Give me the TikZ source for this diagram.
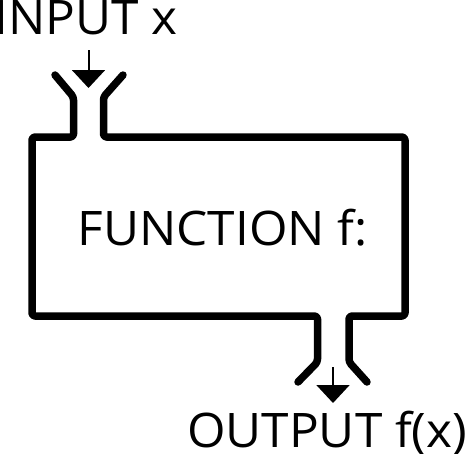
\documentclass[tikz,border=0pt]{standalone}
\usepackage{fontspec}
\setmainfont{Open Sans}[FakeStretch=1.04]
\usetikzlibrary{arrows.meta}

\begin{document}
\begin{tikzpicture}[x=1pt,y=-1pt,
  wall/.style={line width=7.5pt, line cap=round, line join=round, rounded corners=3pt},
  flow/.style={line width=2pt, -{Triangle[width=33pt,length=18pt]}},
  boxtext/.style={font=\fontsize{47.6}{50}\selectfont, inner sep=0pt, anchor=base west}]
  \useasboundingbox (0,0) rectangle (474,453);
  \node[boxtext] (in) at (-6,34) {INPUT x};
  \node[boxtext] (fn) at (77.5,245) {FUNCTION f:};
  \node[boxtext] (out) at (187,447) {OUTPUT f(x)};
  \coordinate (inA) at (88.5,50);
  \coordinate (inB) at (88.5,88);
  \coordinate (outA) at (333,367);
  \coordinate (outB) at (333,403);
  % machine walls, left and right halves
  \draw[wall] (55,75) -- (73.5,97) -- (73.5,137) -- (32,137) -- (32,316) -- (317.5,316) -- (317.5,362) -- (298,382);
  \draw[wall] (123,75) -- (103.5,97) -- (103.5,137) -- (405,137) -- (405,316) -- (349,316) -- (349,362) -- (367,382);
  \draw[flow] (inA) -- (inB);
  \draw[flow] (outA) -- (outB);
\end{tikzpicture}
\end{document}
